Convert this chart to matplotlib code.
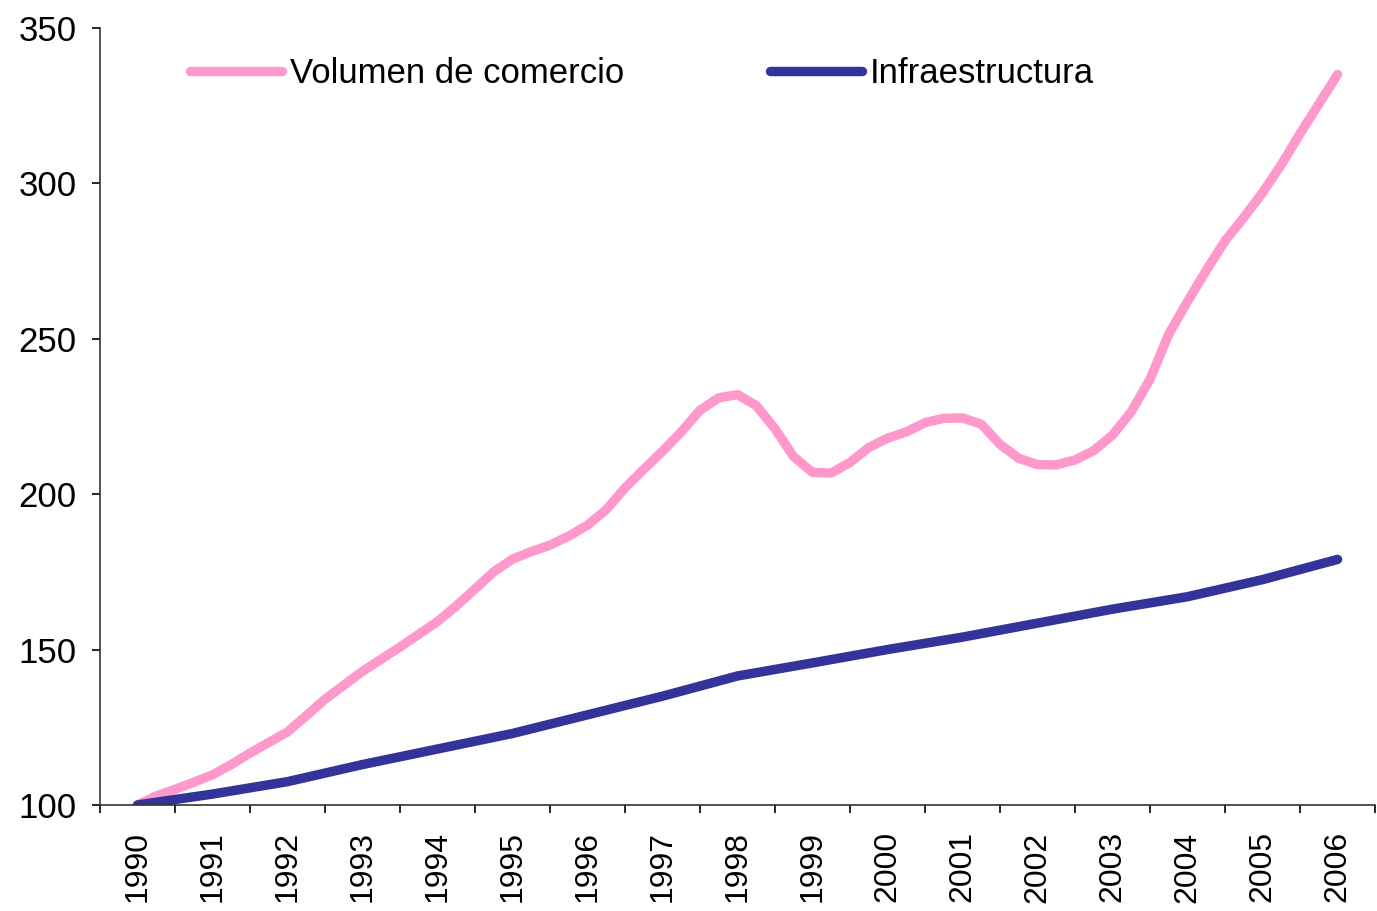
import numpy as np
import matplotlib
matplotlib.use("Agg")
import matplotlib.pyplot as plt
from matplotlib.ticker import FixedLocator

plt.rcParams['font.family'] = ['Liberation Sans', 'DejaVu Sans']

# Años (categorías del eje X)
years = [str(y) for y in range(1990, 2007)]

# Volumen de comercio, datos trimestrales (1990 = 100)
volumen = [100, 102.9, 105, 107.3, 109.7, 113, 116.7, 120.1,
           123.5, 128.7, 134, 138.5, 143, 146.9, 150.8, 154.9,
           159, 164, 169.5, 175, 179.1, 181.5, 183.6, 186.5,
           190, 195, 202, 208, 213.8, 220, 227, 231,
           232, 228.5, 221, 212, 207, 206.8, 210.2, 215,
           218, 220, 223, 224.4, 224.5, 222.5, 216, 211.5,
           209.5, 209.4, 211, 214, 219, 226.5, 237, 251.5,
           262, 272, 281.5, 289, 297, 306, 316, 325.5,
           335]

# Infraestructura, datos anuales (1990 = 100)
infra = [100, 103.5, 107.5, 113, 118, 123, 129, 135, 141.5,
         145.7, 150, 154, 158.5, 163, 167, 172.5, 179]

x_vol = np.arange(len(volumen)) / 4.0
x_inf = np.arange(len(infra))

fig = plt.figure(figsize=(13.77, 9.11), dpi=100)
ax = fig.add_axes([0.0726, 0.1164, 0.926, 0.853])

ax.plot(x_vol, volumen, color='#FF99CC', lw=6.8, solid_capstyle='round',
        solid_joinstyle='round', label='Volumen de comercio')
ax.plot(x_inf, infra, color='#333399', lw=6.8, solid_capstyle='round',
        solid_joinstyle='round', label='Infraestructura')

ax.set_xlim(-0.5, len(years) - 0.5)
ax.set_ylim(100, 350)
ax.set_yticks(np.arange(100, 351, 50))

# marcas entre categorías, etiquetas en el centro
ax.xaxis.set_major_locator(FixedLocator(np.arange(-0.5, len(years), 1.0)))
ax.xaxis.set_minor_locator(FixedLocator(np.arange(len(years))))
ax.set_xticklabels([], minor=False)
ax.set_xticklabels(years, minor=True, rotation=90)
ax.tick_params(axis='x', which='major', length=6, width=1.2, direction='out')
ax.tick_params(axis='x', which='minor', length=0, pad=19, labelsize=23)
ax.tick_params(axis='y', length=6, width=1.2, pad=11, labelsize=25)

for s in ['top', 'right']:
    ax.spines[s].set_visible(False)
for s in ['left', 'bottom']:
    ax.spines[s].set_linewidth(1.2)
    ax.spines[s].set_color('#333333')

ax.legend(loc='center left', bbox_to_anchor=(0.0706, 0.941), ncol=2,
          frameon=False, fontsize=25, handlelength=2.65, handletextpad=0.22,
          columnspacing=4.2, borderaxespad=0, borderpad=0)

fig.savefig('out.png', dpi=100)
